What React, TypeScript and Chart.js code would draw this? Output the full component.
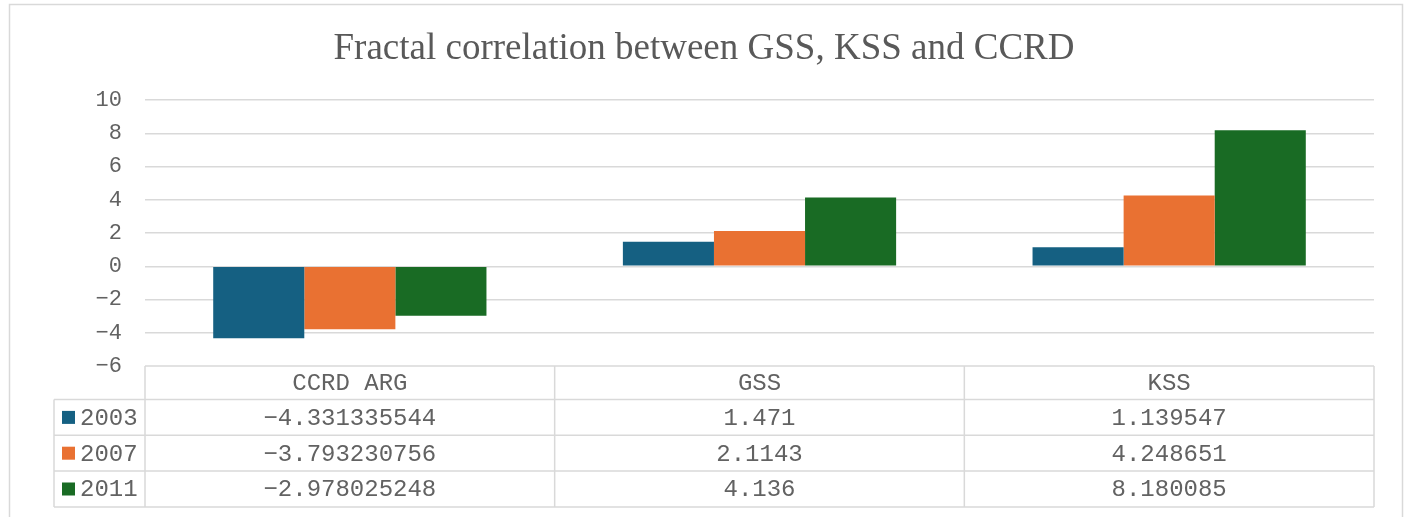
import React, { useEffect, useRef } from "react";
import { Chart, registerables } from "chart.js";

Chart.register(...registerables);

const title = "Fractal correlation between GSS, KSS and CCRD";
const categories = ["CCRD ARG", "GSS", "KSS"];
const seriesNames = ["2003", "2007", "2011"];
const values2003 = [-4.331335544, 1.471, 1.139547];
const values2007 = [-3.793230756, 2.1143, 4.248651];
const values2011 = [-2.978025248, 4.136, 8.180085];
const seriesColors = ["#156082", "#E97132", "#196B24"];
const yMin = -6;
const yMax = 10;
const yStep = 2;

const W = 1408;
const H = 517;
const TEXT = "#595959";
const TABLE_TEXT = "#626262";
const LINE = "#d9d9d9";
const MONO = '"Liberation Mono", "Courier New", monospace';
const SERIF = '"Liberation Serif", "Times New Roman", serif';

const fmt = (v: number) => String(v).replace("-", "\u2212");

const tablePlugin = {
  id: "dataTable",
  afterDraw(chart: any) {
    const ctx = chart.ctx;
    const area = chart.chartArea;
    const xs = chart.scales.x;
    const left = area.left;
    const right = area.right;
    const colW = (right - left) / categories.length;
    const top = area.bottom;
    const headerH = 33.5;
    const rowH = 35.8;
    const legendLeft = 54;
    const all = [values2003, values2007, values2011];

    ctx.save();
    // outer chart border
    ctx.strokeStyle = LINE;
    ctx.lineWidth = 1.5;
    ctx.strokeRect(9.5, 4.5, 1393, H + 20);

    ctx.strokeStyle = LINE;
    ctx.lineWidth = 1.5;
    ctx.beginPath();
    ctx.moveTo(left, top);
    ctx.lineTo(right, top);
    const bottom = top + headerH + rowH * 3;
    for (let r = 0; r <= 3; r++) {
      const y = top + headerH + rowH * r;
      ctx.moveTo(legendLeft, y);
      ctx.lineTo(right, y);
    }
    for (let c = 0; c <= categories.length; c++) {
      const x = left + colW * c;
      ctx.moveTo(x, top);
      ctx.lineTo(x, bottom);
    }
    ctx.moveTo(legendLeft, top + headerH);
    ctx.lineTo(legendLeft, bottom);
    ctx.stroke();

    ctx.fillStyle = TABLE_TEXT;
    ctx.font = `24px ${MONO}`;
    ctx.textAlign = "center";
    ctx.textBaseline = "middle";
    categories.forEach((c, i) => {
      const cx = xs.getPixelForValue(i);
      ctx.fillText(c, cx, top + headerH / 2 + 1);
    });
    all.forEach((vals, r) => {
      const cy = top + headerH + rowH * r + rowH / 2 + 1;
      vals.forEach((v, i) => {
        const cx = xs.getPixelForValue(i);
        ctx.fillStyle = TABLE_TEXT;
        ctx.textAlign = "center";
        ctx.fillText(fmt(v), cx, cy);
      });
      ctx.fillStyle = seriesColors[r];
      ctx.fillRect(62, cy - 7.5, 13, 13);
      ctx.fillStyle = TABLE_TEXT;
      ctx.textAlign = "left";
      ctx.fillText(seriesNames[r], 80, cy);
    });
    ctx.restore();
  },
};

export default function App() {
  const ref = useRef<HTMLCanvasElement | null>(null);
  useEffect(() => {
    document.body.style.margin = "0";
    const canvas = ref.current!;
    const chart = new Chart(canvas, {
      type: "bar",
      data: {
        labels: categories,
        datasets: [values2003, values2007, values2011].map((d, i) => ({
          label: seriesNames[i],
          data: d,
          backgroundColor: seriesColors[i],
          borderWidth: 0,
          categoryPercentage: 0.667,
          barPercentage: 1,
        })),
      },
      options: {
        responsive: false,
        animation: false,
        devicePixelRatio: 1,
        layout: { padding: { top: 4, left: 34, right: 34, bottom: 151 } },
        plugins: {
          legend: { display: false },
          tooltip: { enabled: false },
          title: {
            display: true,
            text: title,
            color: TEXT,
            font: { family: SERIF, size: 37, weight: "normal", lineHeight: 1.2 },
            padding: { top: 23, bottom: 28.6 },
          },
        },
        scales: {
          x: { display: false },
          y: {
            min: yMin,
            max: yMax,
            afterFit(scale: any) {
              scale.width = 111;
            },
            border: { display: false },
            grid: {
              color: (c: any) => (c.tick && c.tick.value === yMin ? "rgba(0,0,0,0)" : LINE),
              lineWidth: 1.5,
              drawTicks: false,
            },
            ticks: {
              stepSize: yStep,
              padding: 23,
              color: TABLE_TEXT,
              font: { family: MONO, size: 22 },
              callback: (v: any) => fmt(Number(v)),
            },
          },
        },
      },
      plugins: [tablePlugin],
    });
    return () => chart.destroy();
  }, []);
  return (
    <div style={{ width: W, height: H, background: "#fff" }}>
      <canvas ref={ref} width={W} height={H} style={{ display: "block" }} />
    </div>
  );
}
